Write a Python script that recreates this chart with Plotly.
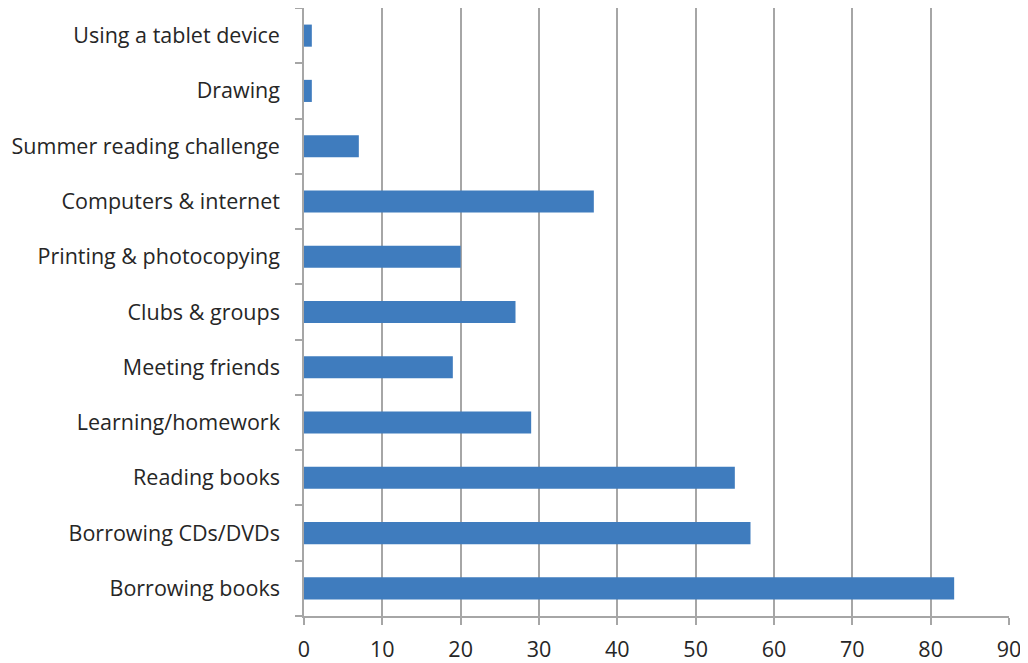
import plotly.graph_objects as go

categories = ["Borrowing books", "Borrowing CDs/DVDs", "Reading books", "Learning/homework",
              "Meeting friends", "Clubs & groups", "Printing & photocopying",
              "Computers & internet", "Summer reading challenge", "Drawing",
              "Using a tablet device"]
values = [83, 57, 55, 29, 19, 27, 20, 37, 7, 1, 1]
x_ticks = [0, 10, 20, 30, 40, 50, 60, 70, 80, 90]

fig = go.Figure(go.Bar(
    x=values, y=categories, orientation="h",
    marker=dict(color="#3F7CBE", line=dict(width=0)),
    width=0.4,
))

font = dict(family="Open Sans, Noto Sans, sans-serif", size=21.5, color="#262626")

fig.update_layout(
    width=1020, height=655,
    margin=dict(l=296, r=19, t=0, b=47),
    paper_bgcolor="white", plot_bgcolor="white",
    showlegend=False,
    font=font,
)
fig.update_xaxes(
    range=[0, 90], tickvals=x_ticks, showgrid=True, gridcolor="#A6A6A6", gridwidth=1.5,
    showline=True, linecolor="#A6A6A6", linewidth=1.5,
    ticks="outside", ticklen=7, tickcolor="#A6A6A6", tickwidth=1.5,
    zeroline=False, tickfont=font, ticklabelstandoff=6, automargin=False,
)
fig.update_yaxes(
    categoryorder="array", categoryarray=categories,
    showline=True, linecolor="#A6A6A6", linewidth=1.5,
    ticks="outside", ticklen=7, tickcolor="#A6A6A6", tickwidth=1.5,
    tickson="boundaries", showgrid=False, ticklabelstandoff=18,
    tickfont=font, automargin=False,
)

fig.write_html("out.html")
